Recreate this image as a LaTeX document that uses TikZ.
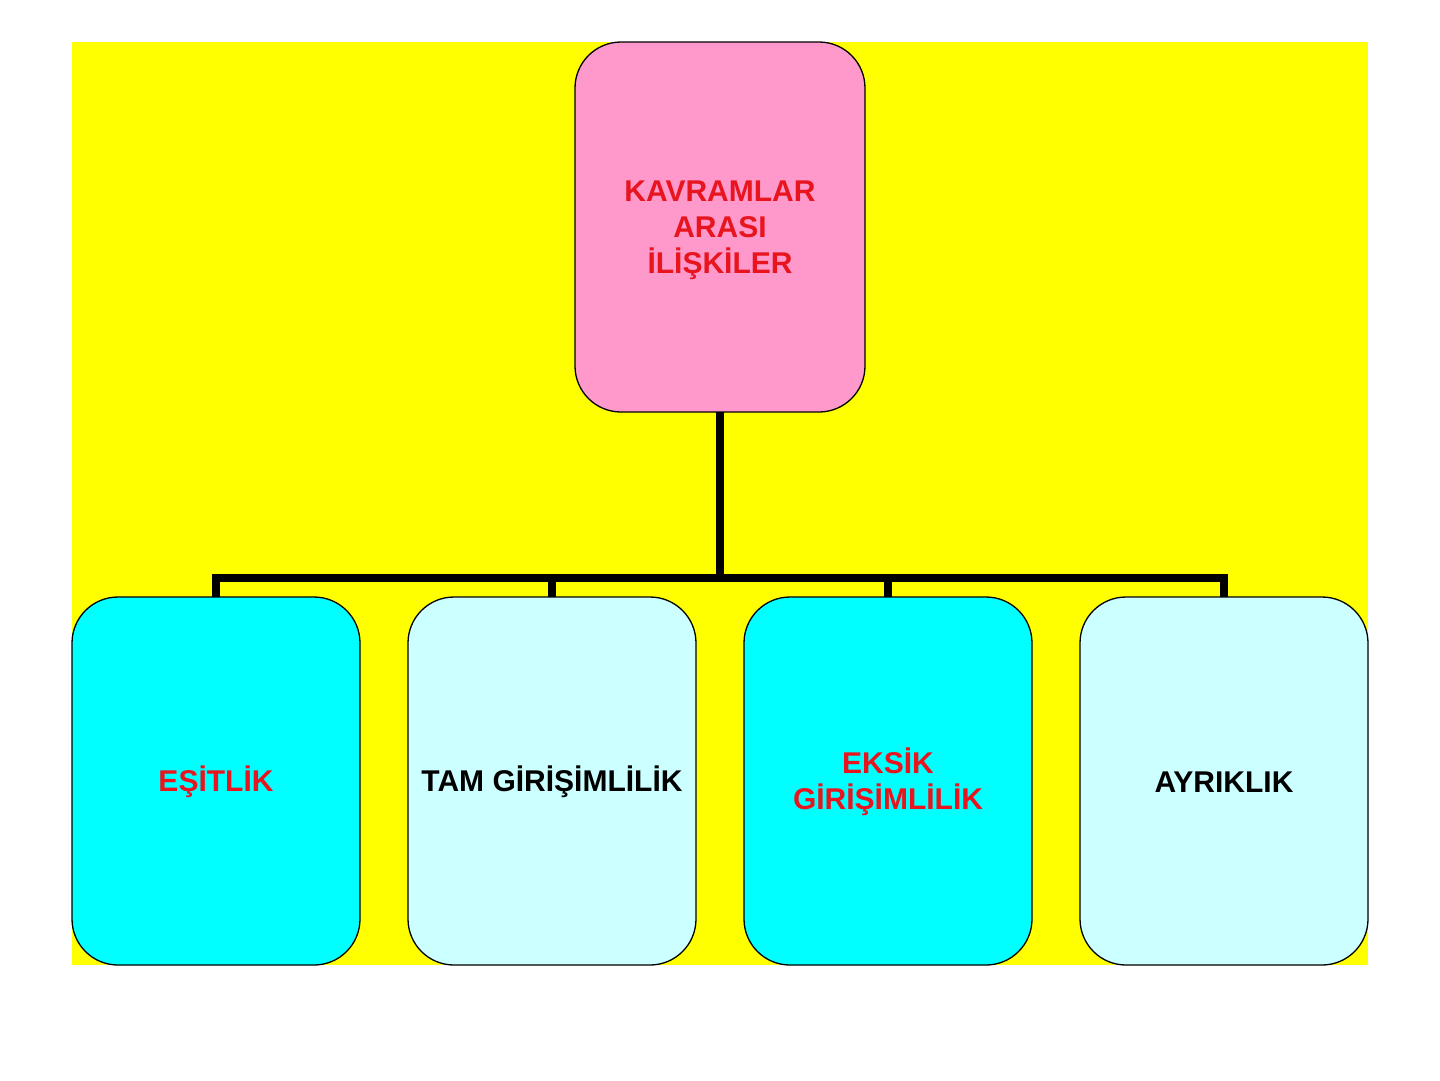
\documentclass[tikz,border=0pt]{standalone}
\usepackage{fontspec}
\setmainfont{Liberation Sans}
\definecolor{bgyellow}{HTML}{FFFF00}
\definecolor{toppink}{HTML}{FF99CC}
\definecolor{boxcyan}{HTML}{00FFFF}
\definecolor{boxlight}{HTML}{CCFFFF}
\definecolor{txtred}{HTML}{E8141E}
\begin{document}
\begin{tikzpicture}[x=1pt,y=-1pt,
  box/.style={draw=black, line width=1.3pt, rounded corners=46pt, inner sep=0pt},
  lbl/.style={font=\bfseries\fontsize{30}{36}\selectfont, align=center},
  conn/.style={line width=8pt, line cap=butt}]
\useasboundingbox (0,0) rectangle (1440,1080);
\fill[bgyellow] (72,42) rectangle (1368,965);
% top box
\draw[box, fill=toppink] (575,42) rectangle (865,412);
\node[lbl, text=txtred] (top) at (720,230) {KAVRAMLAR\\ ARASI\\ İLİŞKİLER};
\coordinate (tb) at (720,412);
\coordinate (bus) at (720,578);
% bottom boxes
\draw[box, fill=boxcyan]  (72,597) rectangle (360,965);
\draw[box, fill=boxlight] (408,597) rectangle (696,965);
\draw[box, fill=boxcyan]  (744,597) rectangle (1032,965);
\draw[box, fill=boxlight] (1080,597) rectangle (1368,965);
\node[lbl, text=txtred] (b1) at (216,782) {EŞİTLİK};
\node[lbl, text=black] (b2) at (552,782) {TAM GİRİŞİMLİLİK};
\node[lbl, text=txtred] (b3) at (888,782) {EKSİK\\ GİRİŞİMLİLİK};
\node[lbl, text=black] (b4) at (1224,782) {AYRIKLIK};
\coordinate (t1) at (216,597);
\coordinate (t2) at (552,597);
\coordinate (t3) at (888,597);
\coordinate (t4) at (1224,597);
% connectors
\draw[conn] (tb) -- (bus);
\draw[conn] (t1) -- (t1 |- bus) -- (t4 |- bus) -- (t4);
\draw[conn] (t2) -- (t2 |- bus);
\draw[conn] (t3) -- (t3 |- bus);
\end{tikzpicture}
\end{document}
